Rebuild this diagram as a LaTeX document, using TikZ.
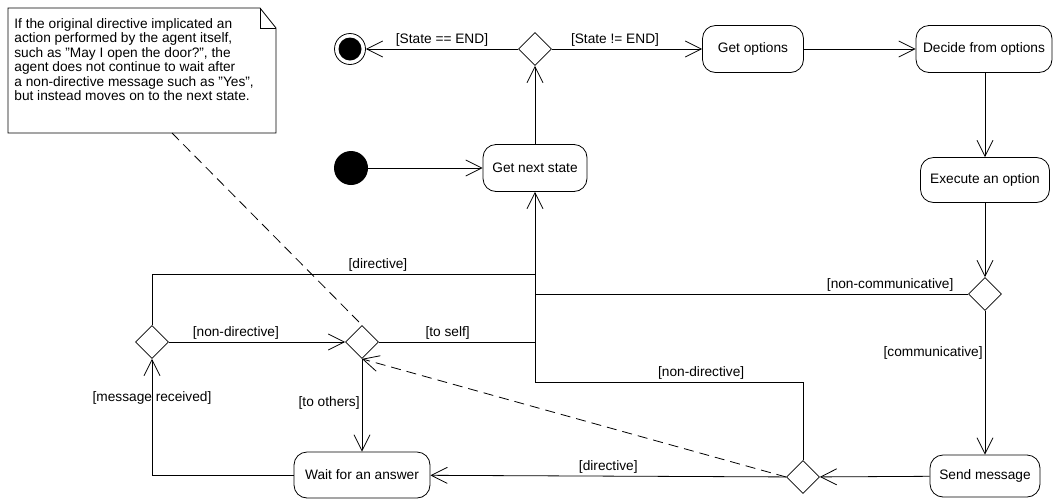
\documentclass[tikz,border=0pt]{standalone}
\usepackage{fontspec}
\setmainfont{Liberation Sans}
\usepackage{tikz}
\usetikzlibrary{shapes.geometric, arrows.meta}
\tikzstyle{arrow} = [->,>={Straight Barb[length=16pt,width=16pt]}]
\tikzstyle{noteline} = [dash pattern=on 10pt off 6pt]

\begin{document}
\begin{tikzpicture}
        [
            x=1pt,y=-1pt,line width=0.8pt,
            every node/.style={font=\fontsize{13.7}{14.5}\selectfont},
            activity/.style={rectangle,draw=black,rounded corners=13pt,minimum height=47pt,inner xsep=6pt},
            choice/.style={diamond,draw=black,aspect=1,minimum width=33pt,minimum height=33pt,inner sep=0pt},
            guard/.style={inner sep=2pt},
            startdot/.style={circle,fill=black,minimum size=34pt,inner sep=0pt},
            enddot/.style={circle,draw=black,minimum size=31pt,inner sep=0pt,
                path picture={\fill (path picture bounding box.center) circle (11.5pt);}},
        ]
    \useasboundingbox (0,0) rectangle (1053,499);

    % note
    \draw (8,8) -- (260,8) -- (276,28) -- (276,133) -- (8,133) -- cycle;
    \draw (260,8) -- (260,28) -- (276,28);
    \node [anchor=north west,inner sep=0pt,align=left] (note) at (14,18)
        {If the original directive implicated an\\
         action performed by the agent itself,\\
         such as "May I open the door?", the\\
         agent does not continue to wait after\\
         a non-directive message such as "Yes",\\
         but instead moves on to the next state.};
    \coordinate (notefoot) at (172,133);

    \node [enddot] (final) at (350,49){};
    \node [choice] (topdec) at (535,49){};
    \node [activity,minimum width=101pt] (getopt) at (753,49){Get options};
    \node [activity,minimum width=136pt] (decide) at (984,49){Decide from options};
    \node [activity,minimum width=129pt,minimum height=45pt] (exec) at (985,180){Execute an option};
    \node [startdot] (init) at (351,168){};
    \node [activity,minimum width=104pt] (getnext) at (535,168){Get next state};
    \node [choice] (rightdec) at (985,294){};
    \node [choice] (leftdec) at (152,342){};
    \node [choice] (middec) at (362,342){};
    \node [choice] (botdec) at (803,477){};
    \node [activity,minimum width=136pt,minimum height=46pt] (wait) at (362,475){Wait for an answer};
    \node [activity,minimum width=110pt,minimum height=42pt] (send) at (985,476){Send message};

    \draw [arrow] (init) -- (getnext);
    \draw [arrow] (getnext) -- (topdec);
    \draw [arrow] (topdec) -- node[guard,above]{[State == END]} (final);
    \draw [arrow] (topdec) -- node[guard,above,pos=0.42]{[State != END]} (getopt);
    \draw [arrow] (getopt) -- (decide);
    \draw [arrow] (decide.south -| exec) -- (exec);
    \draw [arrow] (exec) -- (rightdec);
    \draw [arrow] (rightdec) -- node[guard,left,pos=0.29]{[communicative]} (send);
    \draw (rightdec) -- node[guard,above,pos=0.18]{[non-communicative]} (535,294);
    \draw [arrow] (send) -- (botdec);
    \draw [arrow] (botdec) -- node[guard,above]{[directive]} (wait);
    \draw [arrow] (botdec.north) -- (803,382) -- node[guard,above,pos=0.38]{[non-directive]} (535,382) -- (getnext.south);
    \draw (leftdec.north) -- (152,274) -- node[guard,above,pos=0.59]{[directive]} (535,274);
    \draw [arrow] (leftdec) -- node[guard,above,pos=0.38]{[non-directive]} (middec);
    \draw (middec) -- node[guard,above,pos=0.44]{[to self]} (535,342);
    \draw [arrow] (middec) -- node[guard,left,pos=0.48]{[to others]} (wait);
    \draw [arrow] (wait.west) -- (152,475) -- node[pos=0.66]{[message received]} (leftdec.south);

    \draw [noteline] (notefoot) -- (middec.north);
    \draw [arrow,noteline] (botdec.west) -- (middec.south);
\end{tikzpicture}
\end{document}
